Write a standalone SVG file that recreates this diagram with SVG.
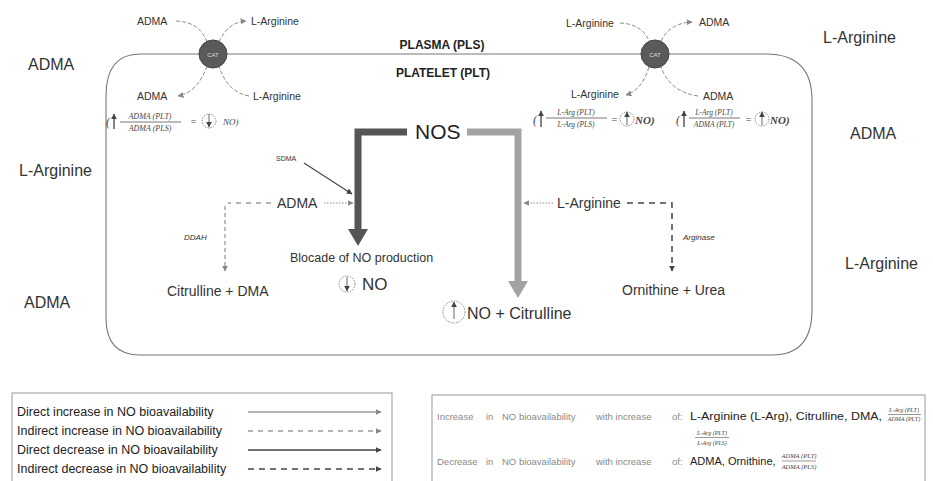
<svg xmlns="http://www.w3.org/2000/svg" width="933" height="481" viewBox="0 0 933 481">
<defs>
<style>
text{font-family:"Liberation Sans",Arial,sans-serif;fill:#333}
.big{font-size:16px}
.mid{font-size:14px}
.sm{font-size:10.5px}
.it{font-style:italic}
.math{font-family:"Liberation Serif","Times New Roman",serif;font-style:italic;fill:#444}
.leg{font-size:12.5px;fill:#222}
.lg{font-size:9.5px;fill:#8a8a8a}
.lk{font-size:10.5px;fill:#222}
.thin{fill:none;stroke:#777;stroke-width:1}
.dash{fill:none;stroke:#888;stroke-width:1;stroke-dasharray:4 2}
.dot{fill:none;stroke:#888;stroke-width:1;stroke-dasharray:1.5 1.5}
.ldash{fill:none;stroke:#9a9a9a;stroke-width:1.3;stroke-dasharray:5 5}
.ddash{fill:none;stroke:#444;stroke-width:1.5;stroke-dasharray:6 5}
.dsolid{fill:none;stroke:#444;stroke-width:1.4}
.lsolid{fill:none;stroke:#999;stroke-width:1.6}
.circ{fill:none;stroke:#777;stroke-width:0.9;stroke-dasharray:1.5 1.2}
.box{fill:none;stroke:#777;stroke-width:1.1}
</style>
<marker id="ad" viewBox="0 0 10 10" refX="9" refY="5" markerWidth="6" markerHeight="6" orient="auto-start-reverse" markerUnits="userSpaceOnUse"><path d="M0,0 L10,5 L0,10 z" fill="#444"/></marker>
<marker id="al" viewBox="0 0 10 10" refX="9" refY="5" markerWidth="6" markerHeight="6" orient="auto-start-reverse" markerUnits="userSpaceOnUse"><path d="M0,0 L10,5 L0,10 z" fill="#888"/></marker>
</defs>
<rect width="933" height="481" fill="#fff"/>

<g id="cell">
<path class="box" d="M140 54 H766 Q812 54 812 100 V310 Q812 355 772 355 H140 Q106 355 106 318 V96 Q106 54 140 54 Z"/>
<text x="442" y="49" text-anchor="middle" style="font-size:12px;font-weight:bold;fill:#222">PLASMA (PLS)</text>
<text x="443" y="77" text-anchor="middle" style="font-size:12px;font-weight:bold;fill:#222">PLATELET (PLT)</text>
</g>

<g id="outside">
<text class="big" x="28" y="70">ADMA</text>
<text class="big" x="19" y="176">L-Arginine</text>
<text class="big" x="24" y="308">ADMA</text>
<text class="big" x="823" y="43">L-Arginine</text>
<text class="big" x="850" y="139">ADMA</text>
<text class="big" x="845" y="269">L-Arginine</text>
</g>

<g id="connectors">
<path class="dash" d="M176 21 Q200 22 207 42"/>
<path class="dash" d="M219 42 Q228 22 246 21" marker-end="url(#al)"/>
<path class="dash" d="M207 66 Q198 92 178 96" marker-end="url(#al)"/>
<path class="dash" d="M249 96 Q227 92 219 66"/>
<path class="dash" d="M620 23 Q642 24 649 41"/>
<path class="dash" d="M661 41 Q670 23 692 22" marker-end="url(#al)"/>
<path class="dash" d="M649 67 Q642 90 626 95" marker-end="url(#al)"/>
<path class="dash" d="M698 96 Q670 92 661 67"/>
<path d="M407 132 H358 V230" fill="none" stroke="#555" stroke-width="7"/>
<polygon points="348,229 368,229 358,246" fill="#555"/>
<path d="M467 132 H518 V282" fill="none" stroke="#a3a3a3" stroke-width="7"/>
<polygon points="508,281 528,281 518,298" fill="#a3a3a3"/>
<path class="dsolid" d="M304 163 L352 194" marker-end="url(#ad)" style="stroke-width:1.1"/>
<path class="dot" d="M324 203 H353" marker-end="url(#al)"/>
<path class="ldash" d="M271 203 H228"/>
<path class="ldash" d="M225 206 V271" marker-end="url(#al)" style="stroke-dasharray:4 3"/>
<path class="dot" d="M553 203 H524" marker-end="url(#al)"/>
<path class="ddash" d="M627 203 H672 V271" marker-end="url(#ad)"/>
</g>

<g id="cat-left">
<circle cx="213" cy="54" r="14" fill="#5a5a5a" stroke="#444"/>
<text x="213" y="56.5" text-anchor="middle" style="font-size:6px;fill:#ddd">CAT</text>
<text class="sm" x="137" y="25">ADMA</text>
<text class="sm" x="251" y="25">L-Arginine</text>
<text class="sm" x="137" y="100">ADMA</text>
<text class="sm" x="253" y="100">L-Arginine</text>
</g>
<g id="cat-right">
<circle cx="655" cy="54" r="14" fill="#5a5a5a" stroke="#444"/>
<text x="655" y="56.5" text-anchor="middle" style="font-size:6px;fill:#ddd">CAT</text>
<text class="sm" x="566" y="27">L-Arginine</text>
<text class="sm" x="699" y="26">ADMA</text>
<text class="sm" x="571" y="98">L-Arginine</text>
<text class="sm" x="703" y="100">ADMA</text>
</g>

<g id="formula-left">
<text class="math" x="106" y="126" style="font-size:12px">(</text>
<path d="M114 129 V114" stroke="#333" stroke-width="1.2" marker-end="url(#ad)"/>
<text class="math" x="150" y="119" text-anchor="middle" style="font-size:8px">ADMA (PLT)</text>
<line x1="120" y1="122" x2="181" y2="122" stroke="#555" stroke-width="0.8"/>
<text class="math" x="150" y="131" text-anchor="middle" style="font-size:8px">ADMA (PLS)</text>
<text class="math" x="190" y="125" style="font-size:10px">=</text>
<circle class="circ" cx="209" cy="121" r="7"/>
<path d="M209 114 V127" stroke="#555" stroke-width="0.9" marker-end="url(#ad)"/>
<text class="math" x="223" y="125" style="font-size:9px">NO)</text>
</g>
<g id="formula-right1">
<text class="math" x="533" y="124" style="font-size:12px">(</text>
<path d="M541 127 V111" stroke="#333" stroke-width="1.2" marker-end="url(#ad)"/>
<text class="math" x="576" y="115" text-anchor="middle" style="font-size:7.5px">L-Arg (PLT)</text>
<line x1="546" y1="118" x2="607" y2="118" stroke="#555" stroke-width="0.8"/>
<text class="math" x="576" y="127" text-anchor="middle" style="font-size:7.5px">L-Arg (PLS)</text>
<text class="math" x="611" y="123" style="font-size:10px">=</text>
<circle class="circ" cx="627" cy="119" r="7"/>
<path d="M627 125 V112" stroke="#555" stroke-width="0.9" marker-end="url(#ad)"/>
<text class="math" x="635" y="124" style="font-size:11px;font-weight:bold">NO)</text>
</g>
<g id="formula-right2">
<text class="math" x="676" y="124" style="font-size:12px">(</text>
<path d="M684 127 V111" stroke="#333" stroke-width="1.2" marker-end="url(#ad)"/>
<text class="math" x="714" y="115" text-anchor="middle" style="font-size:7.5px">L-Arg (PLT)</text>
<line x1="689" y1="118" x2="740" y2="118" stroke="#555" stroke-width="0.8"/>
<text class="math" x="714" y="127" text-anchor="middle" style="font-size:7.5px">ADMA (PLT)</text>
<text class="math" x="745" y="123" style="font-size:10px">=</text>
<circle class="circ" cx="762" cy="119" r="7"/>
<path d="M762 125 V112" stroke="#555" stroke-width="0.9" marker-end="url(#ad)"/>
<text class="math" x="770" y="124" style="font-size:11px;font-weight:bold">NO)</text>
</g>

<g id="nos"><text x="415" y="139" style="font-size:21px;fill:#222">NOS</text></g>
<g id="sdma"><text x="276" y="161" style="font-size:7px">SDMA</text></g>
<g id="adma-in"><text class="mid" x="277" y="208">ADMA</text></g>
<g id="ddah"><text class="it" x="184" y="240" style="font-size:8px">DDAH</text></g>
<g id="cit-dma"><text class="mid" x="167" y="296">Citrulline + DMA</text></g>
<g id="blocade"><text x="290" y="262" style="font-size:12.5px">Blocade of NO production</text></g>
<g id="no-down">
<circle class="circ" cx="347" cy="284" r="8"/>
<path d="M347 277 V291" stroke="#555" stroke-width="0.9" marker-end="url(#ad)"/>
<text x="362" y="290" style="font-size:17px">NO</text>
</g>
<g id="no-cit">
<circle class="circ" cx="454" cy="312" r="11"/>
<path d="M454 319 V302" stroke="#555" stroke-width="0.9" marker-end="url(#ad)"/>
<text x="467" y="319" style="font-size:16px">NO + Citrulline</text>
</g>
<g id="larg-in"><text class="mid" x="557" y="208">L-Arginine</text></g>
<g id="arginase"><text class="it" x="683" y="240" style="font-size:8px">Arginase</text></g>
<g id="orn-urea"><text class="mid" x="622" y="295">Ornithine + Urea</text></g>

<g id="legend-lines">
<rect x="12" y="393" width="380" height="100" fill="none" stroke="#999" stroke-width="1"/>
<text class="leg" x="17" y="416">Direct increase in NO bioavailability</text>
<text class="leg" x="17" y="435">Indirect increase in NO bioavailability</text>
<text class="leg" x="17" y="454">Direct decrease in NO bioavailability</text>
<text class="leg" x="17" y="473">Indirect decrease in NO bioavailability</text>
<path class="lsolid" d="M248 412 H381" marker-end="url(#al)"/>
<path class="ldash" d="M248 431 H381" marker-end="url(#al)"/>
<path class="dsolid" d="M248 450 H381" marker-end="url(#ad)"/>
<path class="ddash" d="M248 469 H381" marker-end="url(#ad)"/>
</g>

<g id="legend-effects">
<rect x="432" y="395" width="493" height="100" fill="none" stroke="#999" stroke-width="1"/>
<text class="lg" x="437" y="420">Increase</text>
<text class="lg" x="486" y="420">in</text>
<text class="lg" x="502" y="420">NO bioavailability</text>
<text class="lg" x="596" y="420">with increase</text>
<text class="lg" x="672" y="420">of:</text>
<text class="lk" x="690" y="420" textLength="192" lengthAdjust="spacingAndGlyphs">L-Arginine (L-Arg), Citrulline, DMA,</text>
<text class="math" x="904" y="412" text-anchor="middle" style="font-size:6px">L-Arg (PLT)</text>
<line x1="888" y1="414.5" x2="921" y2="414.5" stroke="#555" stroke-width="0.6"/>
<text class="math" x="904" y="421" text-anchor="middle" style="font-size:6px">ADMA (PLT)</text>
<text class="math" x="712" y="435" text-anchor="middle" style="font-size:6px">L-Arg (PLT)</text>
<line x1="695" y1="437.5" x2="729" y2="437.5" stroke="#555" stroke-width="0.6"/>
<text class="math" x="712" y="445" text-anchor="middle" style="font-size:6px">L-Arg (PLS)</text>
<text class="lg" x="437" y="465">Decrease</text>
<text class="lg" x="486" y="465">in</text>
<text class="lg" x="502" y="465">NO bioavailability</text>
<text class="lg" x="596" y="465">with increase</text>
<text class="lg" x="672" y="465">of:</text>
<text class="lk" x="690" y="465" style="font-size:11px">ADMA, Ornithine,</text>
<text class="math" x="799" y="458" text-anchor="middle" style="font-size:6.5px">ADMA (PLT)</text>
<line x1="782" y1="461" x2="816" y2="461" stroke="#555" stroke-width="0.6"/>
<text class="math" x="799" y="469" text-anchor="middle" style="font-size:6.5px">ADMA (PLS)</text>
</g>
</svg>
